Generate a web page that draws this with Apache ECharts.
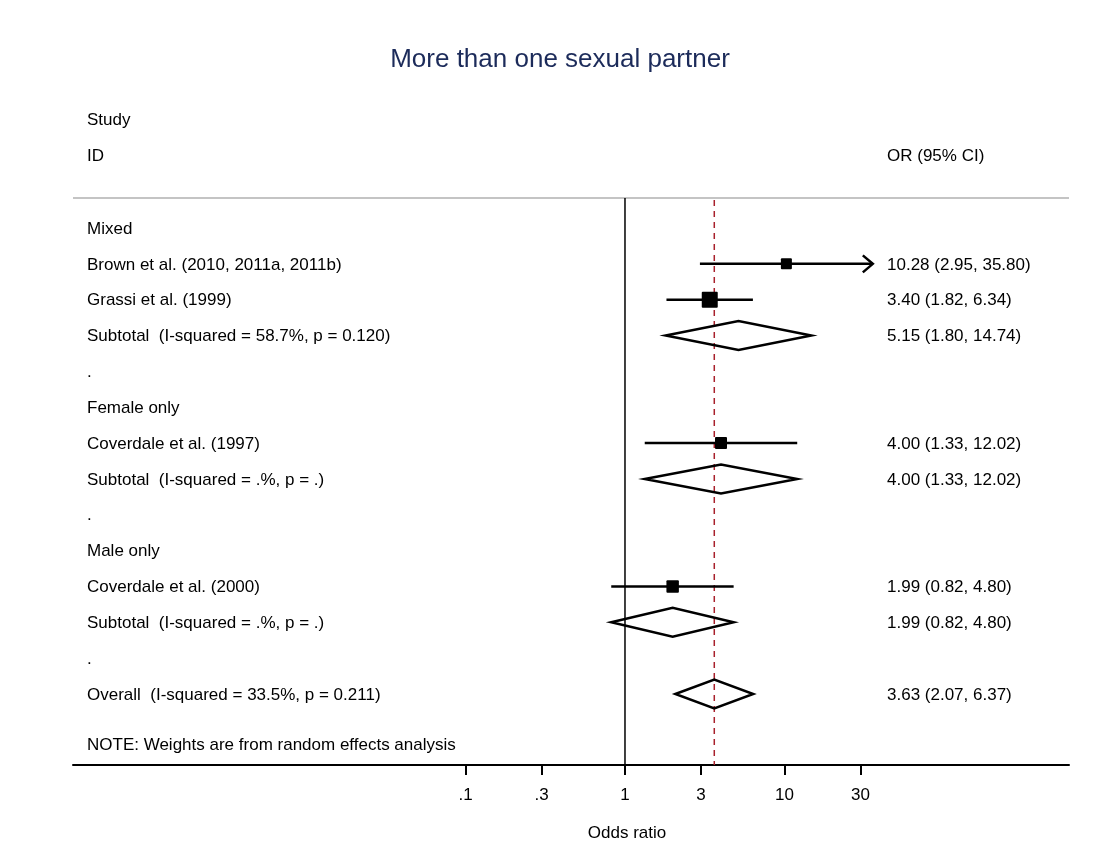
<!DOCTYPE html>
<html><head><meta charset="utf-8">
<script src="https://cdn.jsdelivr.net/npm/echarts@6/dist/echarts.min.js"></script>
<style>html,body{margin:0;padding:0;background:#fff}#c{width:1120px;height:847px}</style>
</head><body><div id="c"></div>
<script>
// ---- data ----
const chartTitle = 'More than one sexual partner';
const headerLeft = ['Study', 'ID'];
const headerRight = 'OR (95% CI)';
const rowLabels = [
  'Mixed',
  'Brown et al. (2010, 2011a, 2011b)',
  'Grassi et al. (1999)',
  'Subtotal  (I-squared = 58.7%, p = 0.120)',
  '.',
  'Female only',
  'Coverdale et al. (1997)',
  'Subtotal  (I-squared = .%, p = .)',
  '.',
  'Male only',
  'Coverdale et al. (2000)',
  'Subtotal  (I-squared = .%, p = .)',
  '.',
  'Overall  (I-squared = 33.5%, p = 0.211)'
];
const studyRows = [1, 2, 6, 10];
const studyOR = [10.28, 3.40, 4.00, 1.99];
const studyLo = [2.95, 1.82, 1.33, 0.82];
const studyHi = [35.80, 6.34, 12.02, 4.80];
const studyWeight = [17.9, 37.8, 21.3, 23.0];
const pooledRows = [3, 7, 11, 13];
const pooledOR = [5.15, 4.00, 1.99, 3.63];
const pooledLo = [1.80, 1.33, 0.82, 2.07];
const pooledHi = [14.74, 12.02, 4.80, 6.37];
const overallOR = 3.63;
const tickValues = [0.1, 0.3, 1, 3, 10, 30];
const tickLabels = ['.1', '.3', '1', '3', '10', '30'];
const noteText = 'NOTE: Weights are from random effects analysis';
const axisTitle = 'Odds ratio';

// ---- layout constants ----
const xMin = -3.461, xMax = 2.784;       // log10(OR) extent
const yMin = -3.837, yMax = 14.98;        // row extent
const headerRows = [-3, -2];
const lineRow = -0.837;
const noteRow = 14.42;
const FONT = 'Liberation Sans, Arial, sans-serif';
const FS = 17;
const LW = 2.5;
const L = Math.log10;
const fmt = v => v.toFixed(2);
const clipMax = L(tickValues[tickValues.length - 1]);

const chart = echarts.init(document.getElementById('c'), null, {renderer: 'canvas'});

function txt(x, y, s, align, color, size) {
  return {type: 'text', x: x, y: y, style: {text: s, fill: color || '#000', font: (size || FS) + 'px ' + FONT,
    textAlign: align || 'left', textVerticalAlign: 'middle', align: align || 'left', verticalAlign: 'middle'}};
}

const studyData = studyRows.map((r, i) => [L(studyOR[i]), r, L(studyLo[i]), L(studyHi[i]), studyWeight[i]]);
const pooledData = pooledRows.map((r, i) => [L(pooledOR[i]), r, L(pooledLo[i]), L(pooledHi[i])]);

const rightTexts = [];
studyRows.forEach((r, i) => rightTexts.push([r, fmt(studyOR[i]) + ' (' + fmt(studyLo[i]) + ', ' + fmt(studyHi[i]) + ')']));
pooledRows.forEach((r, i) => rightTexts.push([r, fmt(pooledOR[i]) + ' (' + fmt(pooledLo[i]) + ', ' + fmt(pooledHi[i]) + ')']));

const option = {
  backgroundColor: '#fff',
  animation: false,
  title: {text: chartTitle, left: 'center', top: 47, padding: 0,
    textStyle: {fontFamily: FONT, fontSize: 26, fontWeight: 'normal', color: '#1c2b5a'}},
  grid: {left: 73, right: 51, top: 90.44, bottom: 82, containLabel: false},
  xAxis: {
    type: 'value', min: xMin, max: xMax,
    splitLine: {show: false},
    axisLine: {show: true, onZero: false, lineStyle: {color: '#000', width: 2}},
    axisTick: {show: true, length: 10, lineStyle: {color: '#000', width: 2}, customValues: tickValues.map(L)},
    axisLabel: {show: true, margin: 22, fontFamily: FONT, fontSize: FS, color: '#000',
      customValues: tickValues.map(L),
      formatter: v => { const i = tickValues.findIndex(t => Math.abs(L(t) - v) < 1e-6); return i >= 0 ? tickLabels[i] : ''; }}
  },
  yAxis: {type: 'value', inverse: true, min: yMin, max: yMax, show: false},
  graphic: [{type: 'text', x: 627, y: 833, style: {text: axisTitle, fill: '#000', font: '17px ' + FONT,
    textAlign: 'center', textVerticalAlign: 'middle', align: 'center', verticalAlign: 'middle'}}],
  series: [
    { // frame lines
      type: 'custom', z: 1, data: [[0, 0]],
      renderItem: (p, api) => {
        const a = api.coord([xMin, lineRow]), b = api.coord([xMax, lineRow]);
        const v1 = api.coord([0, lineRow]), v2 = api.coord([0, yMax]);
        const r1 = api.coord([L(overallOR), lineRow]), r2 = api.coord([L(overallOR), yMax]);
        return {type: 'group', children: [
          {type: 'line', shape: {x1: a[0], y1: a[1], x2: b[0], y2: b[1]}, style: {stroke: '#c4c4c4', lineWidth: 2}},
          {type: 'line', shape: {x1: v1[0], y1: v1[1], x2: v2[0], y2: v2[1]}, style: {stroke: '#000', lineWidth: 1.5}},
          {type: 'line', shape: {x1: r1[0], y1: r1[1] + 2, x2: r2[0], y2: r2[1]}, style: {stroke: '#a8202c', lineWidth: 1.5, lineDash: [6, 5]}}
        ]};
      }
    },
    { // study CI + squares
      type: 'custom', z: 3, data: studyData,
      renderItem: (p, api) => {
        const y = api.value(1);
        const c = api.coord([api.value(0), y]);
        const lo = api.coord([api.value(2), y]);
        const hi = api.coord([api.value(3), y]);
        const s = Math.sqrt(api.value(4)) * 2.6;
        const ch = [
          {type: 'line', shape: {x1: lo[0], y1: lo[1], x2: hi[0], y2: hi[1]}, style: {stroke: '#000', lineWidth: LW}},
          {type: 'rect', shape: {x: c[0] - s / 2, y: c[1] - s / 2, width: s, height: s, r: 1}, style: {fill: '#000'}}
        ];
        if (api.value(3) > clipMax) {
          ch.push({type: 'polyline', shape: {points: [[hi[0] - 10, hi[1] - 8.5], [hi[0], hi[1]], [hi[0] - 10, hi[1] + 8.5]]},
            style: {stroke: '#000', lineWidth: LW, fill: null}});
        }
        return {type: 'group', children: ch};
      }
    },
    { // pooled diamonds
      type: 'custom', z: 3, data: pooledData,
      renderItem: (p, api) => {
        const y = api.value(1);
        const c = api.coord([api.value(0), y]);
        const lo = api.coord([api.value(2), y]);
        const hi = api.coord([api.value(3), y]);
        const h = 14.5;
        return {type: 'polygon', shape: {points: [[lo[0], lo[1]], [c[0], c[1] - h], [hi[0], hi[1]], [c[0], c[1] + h]]},
          style: {stroke: '#000', lineWidth: LW, fill: null, lineJoin: 'miter'}};
      }
    },
    { // left text column
      type: 'custom', z: 4, data: rowLabels.map((s, i) => [xMin, i]),
      renderItem: (p, api) => {
        const c = api.coord([xMin, api.value(1)]);
        return txt(c[0] + 14, c[1] + 1, rowLabels[p.dataIndex]);
      }
    },
    { // right text column
      type: 'custom', z: 4, data: rightTexts.map(d => [xMax, d[0]]),
      renderItem: (p, api) => {
        const c = api.coord([xMax, api.value(1)]);
        return txt(c[0] - 182, c[1] + 1, rightTexts[p.dataIndex][1]);
      }
    },
    { // headers and note
      type: 'custom', z: 4, data: [[0, 0]],
      renderItem: (p, api) => {
        const ch = [];
        headerLeft.forEach((s, i) => { const c = api.coord([xMin, headerRows[i]]); ch.push(txt(c[0] + 14, c[1], s)); });
        const r = api.coord([xMax, headerRows[1]]); ch.push(txt(r[0] - 182, r[1], headerRight));
        const n = api.coord([xMin, noteRow]); ch.push(txt(n[0] + 14, n[1], noteText));
        return {type: 'group', children: ch};
      }
    }
  ]
};
chart.setOption(option);
</script></body></html>
